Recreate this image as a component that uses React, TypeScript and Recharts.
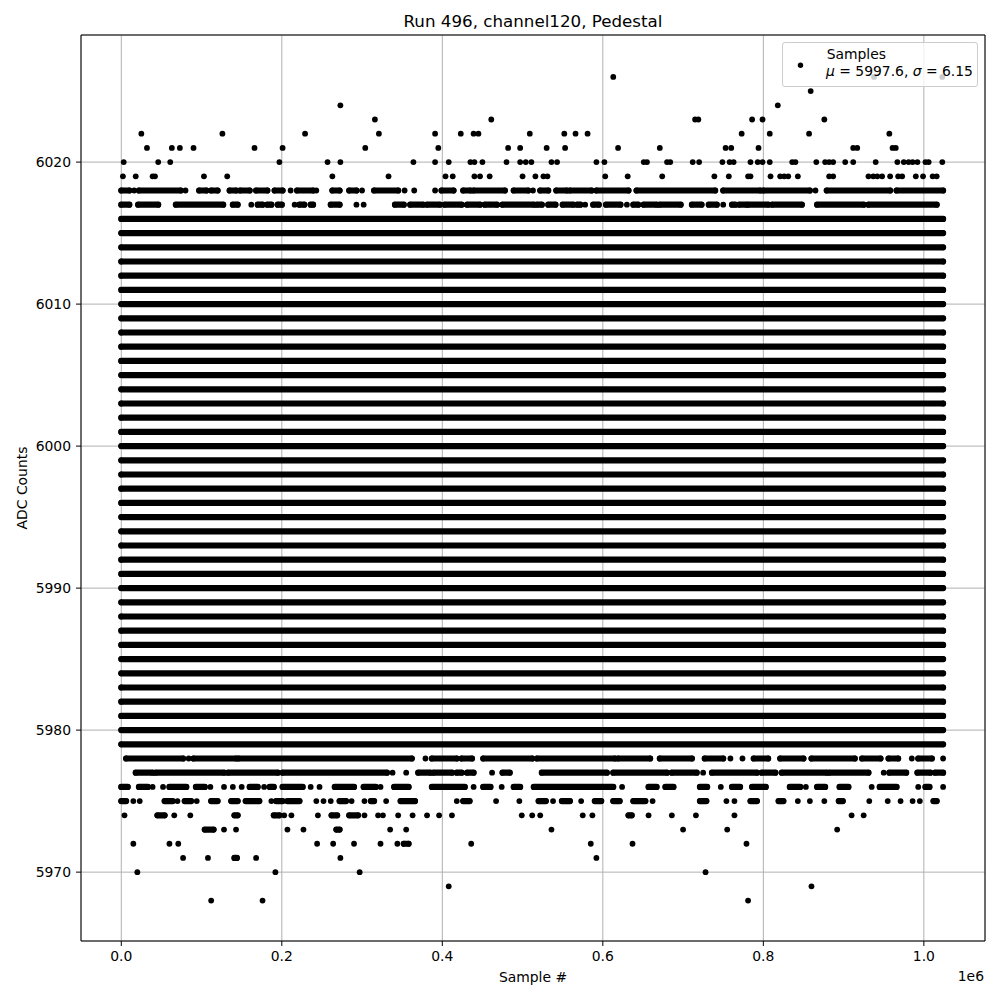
import React from 'react';
import { ComposedChart, Line, Scatter, XAxis, YAxis, CartesianGrid, Legend, ReferenceLine } from 'recharts';

// x values are sample numbers in units of 1e6 (the axis offset text)
// a plain number is one dot, a pair is a run of touching dots
type Run = number | [number, number];

const sampleEnd = 1.024;

// ADC values hit on (almost) every sample -> solid rows
const denseLevels = [
  5979, 5980, 5981, 5982, 5983, 5984, 5985, 5986, 5987, 5988, 5989, 5990, 5991,
  5992, 5993, 5994, 5995, 5996, 5997, 5998, 5999, 6000, 6001, 6002, 6003, 6004,
  6005, 6006, 6007, 6008, 6009, 6010, 6011, 6012, 6013, 6014, 6015, 6016,
];

const row6026: Run[] = [0.613, 0.938, 1.023];
const row6025: Run[] = [0.859];
const row6024: Run[] = [0.273, 0.818];
const row6023: Run[] = [0.316, 0.461, 0.715, 0.719, 0.786, 0.799, 0.876];
const row6022: Run[] = [
  0.025, 0.126, 0.229, 0.321, 0.391, 0.423, 0.439, 0.445, 0.509, 0.552, 0.566, 0.581,
  0.773, 0.808, 0.857, 0.957,
];
const row6021: Run[] = [
  0.032, 0.063, 0.073, 0.09, 0.166, 0.201, 0.304, 0.395, 0.482, 0.497, 0.53, 0.553,
  0.619, 0.671, 0.753, 0.76, 0.794, 0.912, 0.917, 0.961, 0.965,
];
const row6020: Run[] = [
  0.003, 0.046, 0.061, 0.197, 0.257, 0.273, 0.364, 0.391, 0.408, 0.435, 0.44, 0.45,
  0.48, 0.497, 0.504, 0.511, 0.536, 0.543, 0.592, 0.602, 0.651, 0.655, 0.68, 0.684,
  0.712, 0.72, 0.749, 0.758, 0.763, 0.784, 0.793, 0.799, 0.808, 0.836, 0.84, 0.866,
  0.877, 0.882, 0.887, 0.902, 0.912, 0.94, 0.967, 0.975, 0.981, 0.986, 0.992, 1.002,
  1.006, 1.023,
];
const row6019: Run[] = [
  0.002, 0.018, 0.039, 0.042, 0.103, 0.132, 0.263, 0.333, 0.404, 0.413, 0.44, 0.447,
  0.459, 0.5, 0.516, 0.526, 0.531, 0.603, 0.631, 0.674, 0.739, 0.757, 0.781, 0.784,
  0.809, 0.821, 0.826, 0.831, 0.843, 0.882, 0.887, 0.931, 0.937, 0.942, 0.948, 0.958,
  0.968, 0.973, 0.99, 0.999, 1.011, 1.016,
];
const row6018: Run[] = [
  [0, 0.01], 0.016, [0.022, 0.074], 0.08, [0.097, 0.106], [0.112, 0.12], [0.135, 0.143],
  [0.148, 0.16], [0.168, 0.182], [0.191, 0.201], 0.211, [0.219, 0.239], 0.243,
  [0.263, 0.272], [0.284, 0.293], 0.3, [0.315, 0.345], 0.353, 0.365, 0.391,
  [0.399, 0.414], [0.426, 0.435], [0.439, 0.478], [0.489, 0.507], 0.513, [0.522, 0.532],
  [0.542, 0.555], [0.559, 0.586], [0.592, 0.632], [0.642, 0.74], [0.75, 0.796],
  [0.8, 0.858], 0.865, [0.879, 0.958], [0.966, 1.024],
];
const row6017: Run[] = [
  [0, 0.01], [0.021, 0.046], [0.068, 0.127], [0.139, 0.145], 0.162, [0.17, 0.176],
  [0.182, 0.187], [0.195, 0.2], 0.216, [0.222, 0.228], [0.236, 0.239], [0.261, 0.272],
  0.293, 0.302, [0.341, 0.352], [0.36, 0.376], [0.381, 0.397], [0.403, 0.424],
  [0.431, 0.447], [0.453, 0.468], [0.475, 0.514], [0.518, 0.524], [0.532, 0.541],
  [0.55, 0.563], [0.568, 0.572], 0.578, [0.588, 0.595], [0.604, 0.622], 0.63,
  [0.638, 0.644], [0.651, 0.667], [0.671, 0.697], [0.711, 0.723], [0.732, 0.742], 0.75,
  [0.761, 0.765], [0.77, 0.779], [0.781, 0.806], [0.811, 0.848], [0.867, 0.925],
  [0.931, 1.016],
];
const row5978: Run[] = [
  [0.006, 0.077], 0.084, [0.09, 0.143], [0.146, 0.362], 0.379, [0.387, 0.418],
  [0.424, 0.437], [0.451, 0.512], [0.518, 0.615], [0.619, 0.659], [0.671, 0.711],
  [0.727, 0.75], 0.759, 0.774, [0.788, 0.806], [0.821, 0.85], [0.86, 0.914],
  [0.923, 0.946], [0.956, 0.968], 0.985, [0.993, 1.01], 1.024,
];
const row5977: Run[] = [
  [0.018, 0.039], [0.043, 0.128], [0.133, 0.195], [0.201, 0.331], 0.338, 0.355,
  [0.37, 0.385], [0.389, 0.412], [0.418, 0.424], [0.431, 0.439], 0.462, [0.475, 0.484],
  [0.524, 0.605], [0.613, 0.68], [0.686, 0.717], 0.725, [0.736, 0.792], [0.798, 0.815],
  [0.823, 0.879], [0.882, 0.931], 0.95, [0.957, 0.978], [0.992, 1.008], [1.014, 1.024],
];
const row5976: Run[] = [
  [0, 0.008], [0.022, 0.033], 0.039, 0.052, [0.06, 0.081], [0.093, 0.104], 0.111, 0.128,
  0.139, 0.15, [0.16, 0.17], 0.178, [0.185, 0.19], [0.201, 0.226], 0.236, 0.247,
  [0.266, 0.29], [0.302, 0.317], 0.323, [0.34, 0.358], [0.387, 0.428], 0.439,
  [0.451, 0.46], 0.474, [0.489, 0.497], [0.514, 0.613], 0.624, [0.657, 0.667],
  [0.678, 0.688], [0.721, 0.73], 0.747, [0.761, 0.771], [0.786, 0.803], [0.833, 0.846],
  0.853, [0.867, 0.877], [0.895, 0.906], 0.935, [0.945, 0.966], 0.993, [1.002, 1.007],
  1.024,
];
const row5975: Run[] = [
  [0, 0.006], 0.015, 0.023, [0.054, 0.064], 0.07, [0.079, 0.087], 0.094, [0.112, 0.12],
  [0.137, 0.145], [0.155, 0.172], 0.187, [0.193, 0.201], [0.207, 0.222], 0.243, 0.252,
  0.261, [0.272, 0.28], 0.287, 0.303, [0.311, 0.315], 0.33, [0.348, 0.366], 0.418,
  [0.426, 0.434], 0.467, 0.496, [0.52, 0.529], 0.538, [0.549, 0.559], 0.573,
  [0.59, 0.598], [0.613, 0.621], [0.638, 0.653], 0.662, [0.721, 0.729], 0.754, 0.764,
  [0.784, 0.792], [0.819, 0.825], 0.843, 0.858, 0.876, [0.894, 0.899], 0.932, 0.955,
  0.971, 0.986, 0.995, [1.012, 1.016],
];
const row5974: Run[] = [
  0.004, [0.045, 0.054], 0.066, 0.086, [0.141, 0.145], [0.19, 0.197], 0.203, 0.212,
  0.245, [0.262, 0.269], [0.284, 0.295], 0.303, 0.32, 0.326, 0.345, 0.363, 0.381, 0.396,
  0.412, 0.499, 0.512, 0.522, 0.575, 0.587, [0.632, 0.636], 0.657, 0.686, 0.716, 0.764,
  0.91, 0.925,
];
const row5973: Run[] = [[0.104, 0.115], 0.128, 0.143, 0.207, 0.227, [0.268, 0.272], 0.335, 0.355, 0.536, 0.7, 0.755, 0.892];
const row5972: Run[] = [0.015, 0.06, 0.071, 0.244, 0.264, 0.29, 0.323, 0.344, [0.352, 0.358], 0.436, 0.585, 0.637, 0.779];
const row5971: Run[] = [0.077, 0.108, [0.141, 0.144], 0.168, 0.273, 0.592];
const row5970: Run[] = [0.02, 0.192, 0.297, 0.728];
const row5969: Run[] = [0.408, 0.86];
const row5968: Run[] = [0.112, 0.176, 0.781];

const xTicks = [0, 0.2, 0.4, 0.6, 0.8, 1.0];
const yTicks = [5970, 5980, 5990, 6000, 6010, 6020];

const sparseRows: { adc: number; runs: Run[] }[] = [
  { adc: 6026, runs: row6026 }, { adc: 6025, runs: row6025 }, { adc: 6024, runs: row6024 },
  { adc: 6023, runs: row6023 }, { adc: 6022, runs: row6022 }, { adc: 6021, runs: row6021 },
  { adc: 6020, runs: row6020 }, { adc: 6019, runs: row6019 }, { adc: 6018, runs: row6018 },
  { adc: 6017, runs: row6017 }, { adc: 5978, runs: row5978 }, { adc: 5977, runs: row5977 },
  { adc: 5976, runs: row5976 }, { adc: 5975, runs: row5975 }, { adc: 5974, runs: row5974 },
  { adc: 5973, runs: row5973 }, { adc: 5972, runs: row5972 }, { adc: 5971, runs: row5971 },
  { adc: 5970, runs: row5970 }, { adc: 5969, runs: row5969 }, { adc: 5968, runs: row5968 },
];

const spans = [
  ...denseLevels.map((adc) => ({ adc, a: 0, b: sampleEnd })),
  ...sparseRows.flatMap((row) =>
    row.runs.map((r) => {
      const [a, b] = typeof r === 'number' ? [r, r] : r;
      return { adc: row.adc, a, b };
    })
  ),
];

// runs -> broken line (null ends each piece), dots -> scatter
const runData = spans
  .filter((s) => s.b > s.a)
  .flatMap((s) => [
    { x: s.a, y: s.adc },
    { x: s.b, y: s.adc },
    { x: s.b, y: null },
  ]);
const dotData = spans.flatMap((s) =>
  s.b > s.a ? [{ x: s.a, y: s.adc }, { x: s.b, y: s.adc }] : [{ x: s.a, y: s.adc }]
);

const FONT = 'DejaVu Sans, sans-serif';
const xDomain = [-0.0502, 1.0762];
const yDomain = [5965.15, 6028.95];

const Dot = (p: any) => <circle cx={p.cx} cy={p.cy} r={2.9} fill="#000" />;

const LegendBox = () => (
  <div
    style={{
      width: 196,
      height: 45,
      boxSizing: 'border-box',
      background: 'rgba(255,255,255,0.8)',
      border: '1px solid #cccccc',
      borderRadius: 3,
    }}
  >
    <svg width={194} height={43} style={{ display: 'block' }}>
      <circle cx={17.5} cy={22.3} r={2.7} fill="#000" />
      <text x={43.7} y={16.3} fontFamily={FONT} fontSize={13.9} fill="#000">
        Samples
      </text>
      <text x={43} y={32.7} fontFamily={FONT} fontSize={13.9} fill="#000">
        <tspan fontStyle="italic">μ</tspan> = 5997.6, <tspan fontStyle="italic">σ</tspan> = 6.15
      </text>
    </svg>
  </div>
);

const App: React.FC = () => {
  const tickStyle = { fontSize: 13.9, fill: '#000', fontFamily: FONT };
  return (
    <div style={{ position: 'absolute', left: 0, top: 0, width: 1000, height: 1000, background: '#fff' }}>
      <ComposedChart width={1000} height={1000} margin={{ top: 35, right: 15, bottom: 29, left: 0 }}>
        <CartesianGrid stroke="#b0b0b0" strokeWidth={1} />
        <XAxis
          type="number"
          dataKey="x"
          domain={xDomain}
          allowDataOverflow
          ticks={xTicks}
          tickFormatter={(v: number) => v.toFixed(1)}
          tick={tickStyle}
          tickSize={5}
          tickMargin={5}
          height={30}
          axisLine={{ stroke: '#000' }}
          tickLine={{ stroke: '#000' }}
        />
        <YAxis
          type="number"
          dataKey="y"
          domain={yDomain}
          allowDataOverflow
          ticks={yTicks}
          tick={tickStyle}
          tickSize={5}
          tickMargin={5}
          width={81}
          axisLine={{ stroke: '#000' }}
          tickLine={{ stroke: '#000' }}
        />
        <Line
          data={runData}
          dataKey="y"
          stroke="#000"
          strokeWidth={6.2}
          strokeLinecap="round"
          dot={false}
          activeDot={false}
          connectNulls={false}
          legendType="none"
          isAnimationActive={false}
        />
        <Scatter
          name="Samples"
          data={dotData}
          dataKey="y"
          fill="#000"
          shape={Dot}
          isAnimationActive={false}
        />
        {/* top and right spines */}
        <ReferenceLine y={yDomain[1]} stroke="#000" strokeWidth={1} ifOverflow="visible" />
        <ReferenceLine x={xDomain[1]} stroke="#000" strokeWidth={1} ifOverflow="visible" />
        <Legend
          layout="horizontal"
          verticalAlign="middle"
          content={() => <LegendBox />}
          wrapperStyle={{ position: 'absolute', left: 782, top: 42, width: 196, height: 45 }}
        />
      </ComposedChart>
      <svg
        width={1000}
        height={1000}
        style={{ position: 'absolute', left: 0, top: 0, pointerEvents: 'none' }}
      >
        <text x={533} y={26.7} textAnchor="middle" fontFamily={FONT} fontSize={16.7} fill="#000">
          Run 496, channel120, Pedestal
        </text>
        <text x={533} y={982} textAnchor="middle" fontFamily={FONT} fontSize={13.9} fill="#000">
          Sample #
        </text>
        <text x={984} y={981} textAnchor="end" fontFamily={FONT} fontSize={13.9} fill="#000">
          1e6
        </text>
        <text
          x={0}
          y={0}
          transform="translate(26.5,488) rotate(-90)"
          textAnchor="middle"
          fontFamily={FONT}
          fontSize={13.9}
          fill="#000"
        >
          ADC Counts
        </text>
      </svg>
    </div>
  );
};

export default App;
